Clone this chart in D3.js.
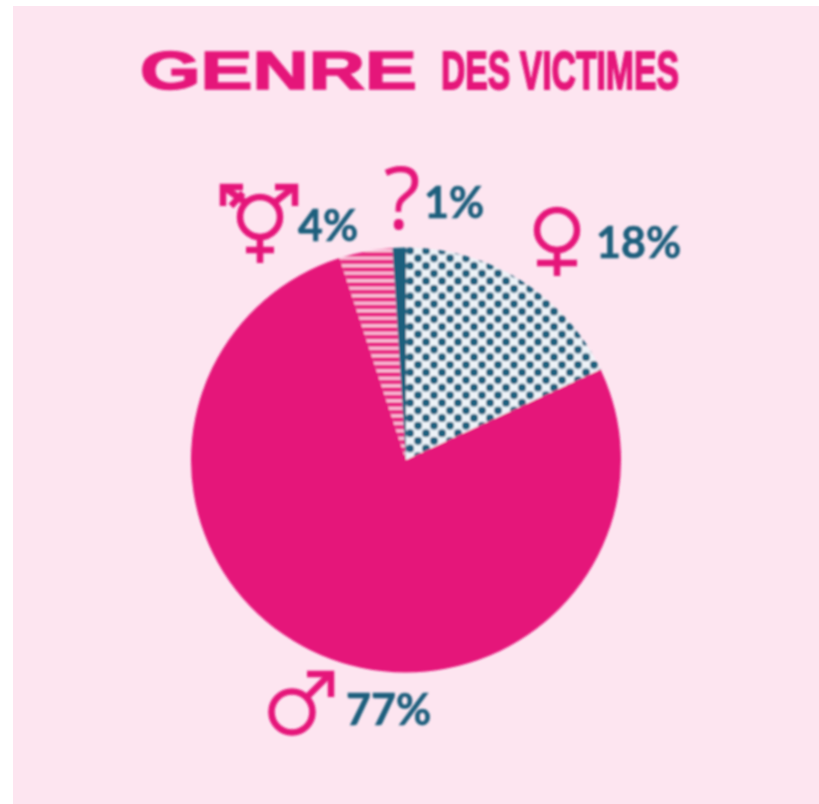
<!DOCTYPE html>
<html>
<head>
<meta charset="utf-8">
<script src="https://d3js.org/d3.v7.min.js"></script>
<style>
  html, body { margin: 0; padding: 0; background: #fff; }
  svg { display: block; }
</style>
</head>
<body>
<svg id="chart" width="819" height="804"></svg>
<script>
// values, clockwise from 12 o'clock
const categories = ['femme', 'homme', 'trans', 'inconnu']
const values = [18, 77, 4, 1]
const labels = ['18%', '77%', '4%', '1%']

const pink = '#e5147a'
const teal = '#1d5f7d'
const bg = '#fde5f0'

const svg = d3.select('#chart')
const defs = svg.append('defs')

defs.append('filter').attr('id', 'soft')
  .append('feGaussianBlur').attr('stdDeviation', 0.9)

// staggered dots for the 18% slice
const dots = defs.append('pattern')
  .attr('id', 'dots')
  .attr('patternUnits', 'userSpaceOnUse')
  .attr('x', 408).attr('y', 254)
  .attr('width', 16).attr('height', 15.4)
dots.append('rect').attr('width', 16).attr('height', 15.4).attr('fill', '#eef3f8')
dots.selectAll('circle')
  .data([[4, 3.85], [12, 11.55]])
  .enter()
  .append('circle')
  .attr('cx', d => d[0])
  .attr('cy', d => d[1])
  .attr('r', 4)
  .attr('fill', teal)

// horizontal stripes for the 4% slice
const stripes = defs.append('pattern')
  .attr('id', 'stripes')
  .attr('patternUnits', 'userSpaceOnUse')
  .attr('x', 0).attr('y', 253)
  .attr('width', 10).attr('height', 7.6)
stripes.append('rect').attr('width', 10).attr('height', 7.6).attr('fill', '#fbd3e5')
stripes.append('rect').attr('width', 10).attr('height', 5).attr('fill', '#e92a85')

const fills = d3.scaleOrdinal()
  .domain(categories)
  .range(['url(#dots)', pink, 'url(#stripes)', teal])

// page background, leaves the white edge of the scan on top and left
svg.append('rect')
  .attr('x', 13).attr('y', 6)
  .attr('width', 806).attr('height', 798)
  .attr('fill', bg)

const g = svg.append('g').attr('filter', 'url(#soft)')

// title words are stretched to the width they take in the picture
function title (txt, x, width, size, stroke) {
  const t = g.append('text')
    .text(txt)
    .attr('font-family', 'Liberation Sans')
    .attr('font-weight', 700)
    .attr('font-size', size)
    .attr('fill', pink)
    .attr('stroke', pink)
    .attr('stroke-width', stroke)
  const sx = width / t.node().getComputedTextLength()
  t.attr('transform', 'translate(' + x + ',89) scale(' + sx + ',1)')
}
title('GENRE', 140, 277, 53, 1.5)
title('DES VICTIMES', 441, 238, 54, 1.8)

// pie
const pie = d3.pie().sort(null).value(d => d)
const arc = d3.arc().innerRadius(0).outerRadius(215)

g.append('g')
  .attr('transform', 'translate(406,460) scale(1,0.988)')
  .selectAll('path')
  .data(pie(values))
  .enter()
  .append('path')
  .attr('d', arc)
  .attr('fill', (d, i) => fills(categories[i]))

// percent labels
const labelPos = [[596, 258], [346, 725], [298, 241], [424, 218]]
g.selectAll('text.pct')
  .data(labels)
  .enter()
  .append('text')
  .attr('class', 'pct')
  .text(d => d)
  .attr('x', (d, i) => labelPos[i][0])
  .attr('y', (d, i) => labelPos[i][1])
  .attr('font-family', 'Lato')
  .attr('font-weight', 700)
  .attr('font-size', 43)
  .attr('fill', teal)
  .attr('stroke', teal)
  .attr('stroke-width', 0.6)

// gender symbols
const sym = g.append('g')
  .attr('fill', 'none')
  .attr('stroke', pink)
  .attr('stroke-width', 6.5)

function line (pts) {
  sym.append('path').attr('d', d3.line()(pts))
}

// female
sym.append('circle').attr('cx', 557).attr('cy', 230).attr('r', 20)
line([[557, 250], [557, 276]])
line([[537, 263], [577, 263]])

// male
sym.append('circle').attr('cx', 292).attr('cy', 712).attr('r', 20.5)
line([[306, 698], [330, 674]])
line([[307, 674], [331, 674], [331, 697]])

// trans
sym.append('circle').attr('cx', 260).attr('cy', 217).attr('r', 20)
line([[260, 237], [260, 263]])
line([[246, 250], [274, 250]])
line([[274, 203], [294, 187]])
line([[275, 187], [295, 187], [295, 206]])
line([[246, 203], [224, 187]])
line([[243, 187], [223, 187], [223, 206]])
line([[231, 206], [243, 193]])

g.append('text')
  .text('?')
  .attr('x', 402).attr('y', 229)
  .attr('text-anchor', 'middle')
  .attr('font-family', 'Open Sans')
  .attr('font-size', 86)
  .attr('fill', pink)
</script>
</body>
</html>
